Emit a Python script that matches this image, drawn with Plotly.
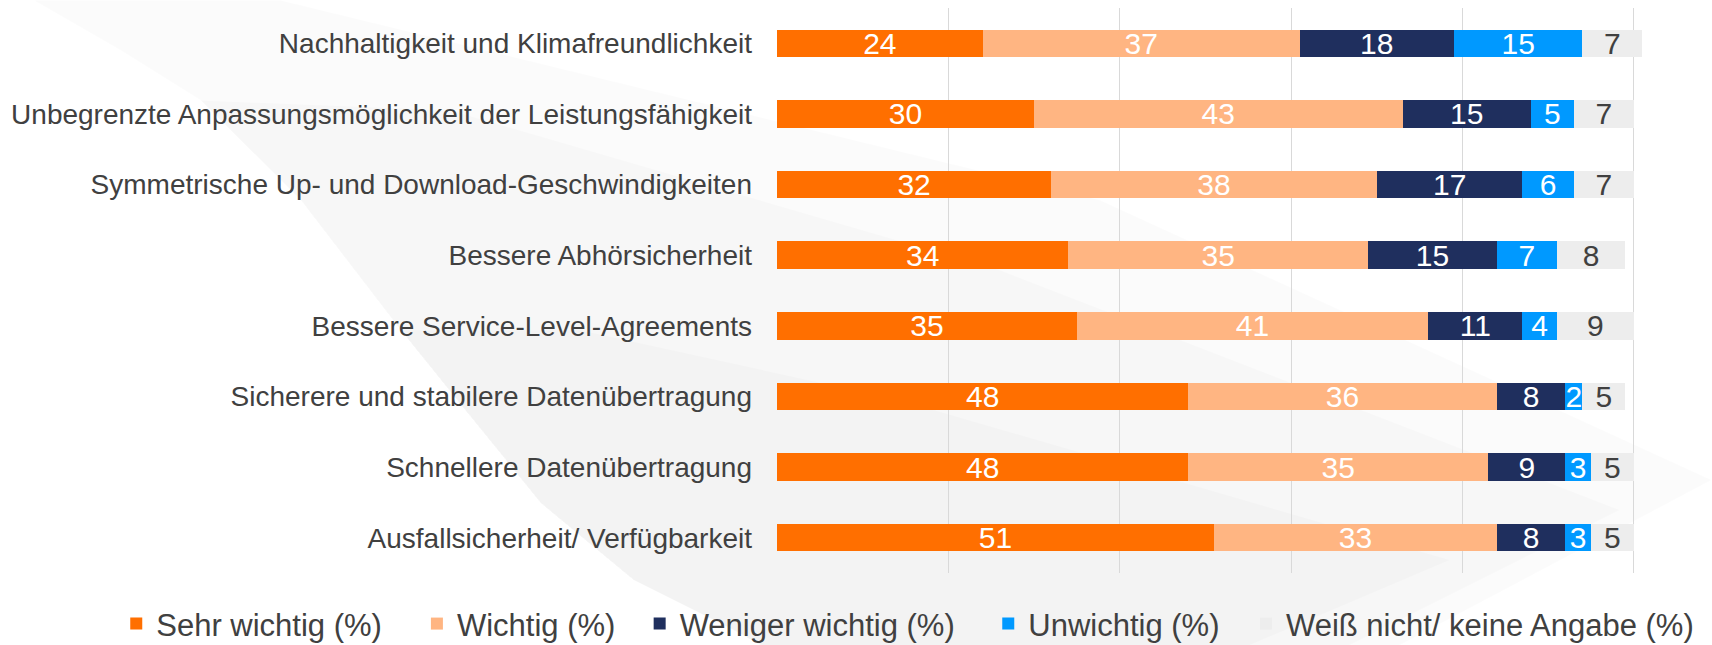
import plotly.graph_objects as go

categories = [
    "Nachhaltigkeit und Klimafreundlichkeit",
    "Unbegrenzte Anpassungsmöglichkeit der Leistungsfähigkeit",
    "Symmetrische Up- und Download-Geschwindigkeiten",
    "Bessere Abhörsicherheit",
    "Bessere Service-Level-Agreements",
    "Sicherere und stabilere Datenübertragung",
    "Schnellere Datenübertragung",
    "Ausfallsicherheit/ Verfügbarkeit",
]
sehr_wichtig = [24, 30, 32, 34, 35, 48, 48, 51]
wichtig = [37, 43, 38, 35, 41, 36, 35, 33]
weniger_wichtig = [18, 15, 17, 15, 11, 8, 9, 8]
unwichtig = [15, 5, 6, 7, 4, 2, 3, 3]
weiss_nicht = [7, 7, 7, 8, 9, 5, 5, 5]

series_names = ["Sehr wichtig (%)", "Wichtig (%)", "Weniger wichtig (%)",
                "Unwichtig (%)", "Weiß nicht/ keine Angabe (%)"]
series_values = [sehr_wichtig, wichtig, weniger_wichtig, unwichtig, weiss_nicht]
colors = ["#FF6F00", "#FFB582", "#1F2F5E", "#0099FF", "#EDEDED"]
text_colors = ["white", "white", "white", "white", "#404040"]

FONT = "Liberation Sans, Arial, sans-serif"
W, H = 1712, 645
ML, MR, MT, MB = 776.5, 60.5, 7.5, 72
PW, PH = W - ML - MR, H - MT - MB

def px(x):
    return (x - ML) / PW

def py(y):
    return (H - MB - y) / PH

fig = go.Figure()
legend_text_starts = [155, 456, 679, 1028, 1286]
for i, (name, vals) in enumerate(zip(series_names, series_values)):
    lg = "legend" if i == 0 else f"legend{i+1}"
    fig.add_trace(go.Bar(
        y=categories, x=vals, name=name, orientation="h",
        marker=dict(color=colors[i], line=dict(width=0)),
        text=[str(v) for v in vals], textposition="inside", textangle=0,
        insidetextanchor="middle", constraintext="none", cliponaxis=False,
        textfont=dict(family=FONT, size=30, color=text_colors[i]),
        legend=lg, hoverinfo="skip",
    ))

legends = {}
for i, ts in enumerate(legend_text_starts):
    key = "legend" if i == 0 else f"legend{i+1}"
    legends[key] = dict(
        x=px(ts - 40), xanchor="left", y=py(651), yanchor="bottom",
        orientation="h", bgcolor="rgba(0,0,0,0)",
        font=dict(family=FONT, size=31, color="#404040"),
    )

def path(points):
    s = "M {:.4f},{:.4f}".format(px(points[0][0]), py(points[0][1]))
    for p in points[1:]:
        s += " L {:.4f},{:.4f}".format(px(p[0]), py(p[1]))
    return s + " Z"

left_curve = [(33, 0), (120, 50), (200, 100), (300, 200), (400, 330), (467, 413),
              (540, 503), (633, 580), (733, 630), (760, 645)]
layers = [
    left_curve + [(1400, 645), (1712, 480), (1100, 200), (280, 0)],
    left_curve[2:] + [(1350, 645), (1620, 510), (1000, 270), (450, 110)],
    left_curve[4:] + [(1250, 645), (1450, 560), (900, 400), (580, 330)],
]

fig.update_layout(
    width=W, height=H,
    margin=dict(l=ML, r=MR, t=MT, b=MB, autoexpand=False),
    paper_bgcolor="white", plot_bgcolor="rgba(0,0,0,0)",
    barmode="stack", bargap=0.61,
    uniformtext=dict(mode="show", minsize=30),
    showlegend=True,
    xaxis=dict(range=[0, 102], tickvals=[0, 20, 40, 60, 80, 100], showticklabels=False,
               showgrid=True, gridcolor="#D9D9D9", gridwidth=1, zeroline=False,
               showline=False, fixedrange=True),
    yaxis=dict(autorange="reversed", showgrid=False, zeroline=False, showline=False,
               ticks="", ticklabelstandoff=24,
               tickfont=dict(family=FONT, size=28, color="#404040")),
    shapes=[dict(type="path", xref="paper", yref="paper", path=path(pts),
                 fillcolor="rgba(0,0,0,0.015)", line=dict(width=0), layer="below")
            for pts in layers],
    **legends,
)

fig.write_html("out.html", config={"displayModeBar": False},
               post_script="document.body.style.margin='0';")
